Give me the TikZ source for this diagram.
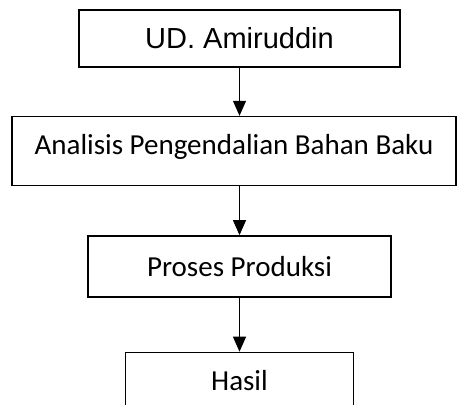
\documentclass[tikz,border=0pt]{standalone}
\usepackage{fontspec}
\setmainfont{Carlito}
\newfontfamily\arialfont{Liberation Sans}
\usetikzlibrary{positioning, arrows.meta}
\tikzstyle{Box} = [
draw,
line width=1.6pt,
inner sep=0pt,
font=\fontsize{29}{35}\selectfont,
text height=38pt,
text depth=20pt]
\tikzstyle{Arrow} = [
line width=1.2pt,
-{Triangle[length=15pt, width=13pt]}]

\begin{document}
\begin{tikzpicture}[x=1pt, y=1pt]
    \useasboundingbox (0,0) rectangle (457,-404);
    \node [Box, minimum width=321pt, text height=38.3pt, text depth=18.7pt] (1) at (239.5,-38.5) {\arialfont UD. Amiruddin};
    \node [Box, below=48pt of 1, xshift=-5.5pt, minimum width=444pt, text depth=31pt] (2) {Analisis Pengendalian Bahan Baku};
    \node [Box, below=48.7pt of 2, xshift=5.5pt, minimum width=303pt, text height=40.6pt, text depth=20.4pt] (3) {Proses Produksi};
    \node [Box, below=54pt of 3, minimum width=228pt] (4) {Hasil};

    \draw[Arrow] (1.south)--(1 |- 2.north);
    \draw[Arrow] (3 |- 2.south)--(3.north);
    \draw[Arrow] (3.south)--(4.north);
\end{tikzpicture}
\end{document}
